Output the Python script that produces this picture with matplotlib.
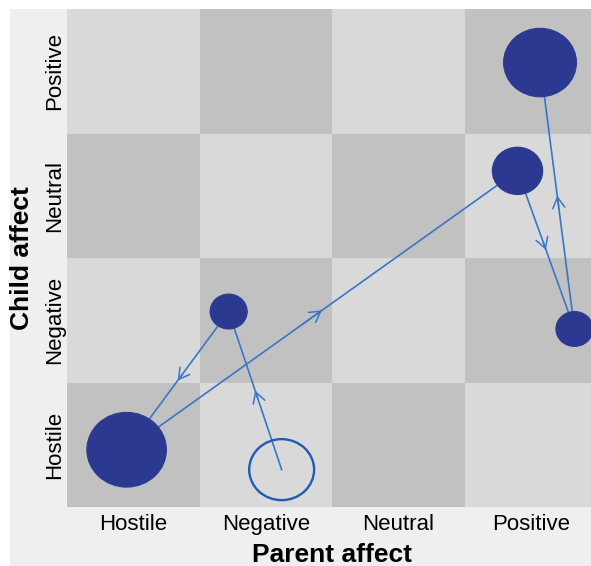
import matplotlib
matplotlib.use("Agg")
import matplotlib.pyplot as plt
from matplotlib.patches import Rectangle, Circle

plt.rcParams["font.family"] = ["Liberation Sans", "DejaVu Sans"]

# state categories on both axes
parent_states = ["Hostile", "Negative", "Neutral", "Positive"]
child_states = ["Hostile", "Negative", "Neutral", "Positive"]

# trajectory through the grid, in visiting order
# (parent coordinate, child coordinate, node radius = duration, filled?)
parent_pos = [2.12, 1.72, 0.95, 3.90, 4.33, 4.07]
child_pos = [0.80, 2.07, 0.96, 3.20, 1.93, 4.07]
duration = [0.245, 0.14, 0.30, 0.19, 0.14, 0.275]
filled = [False, True, True, True, True, True]

CELL_LIGHT = "#d9d9d9"
CELL_DARK = "#c1c1c1"
NODE = "#2b3990"
EDGE = "#3a76c8"

W, H = 591, 566
fig = plt.figure(figsize=(W / 100, H / 100), dpi=100, facecolor="white")
fig.add_artist(Rectangle((10 / W, 0), 1, (H - 9) / H, transform=fig.transFigure,
                         facecolor="#efefef", edgecolor="none", zorder=-5))

ax = fig.add_axes([67 / W, 59 / H, 530 / W, 498 / H])
ax.set_zorder(1)
ax.set_xlim(0.5, len(parent_states) + 0.5)
ax.set_ylim(0.5, len(child_states) + 0.5)

# checkerboard of cells
for i in range(len(parent_states)):
    for j in range(len(child_states)):
        c = CELL_DARK if (i + j) % 2 == 0 else CELL_LIGHT
        ax.add_patch(Rectangle((i + 0.5, j + 0.5), 1, 1, facecolor=c,
                               edgecolor="none", zorder=0))

# transitions with a chevron at the midpoint
for k in range(len(parent_pos) - 1):
    x0, y0 = parent_pos[k], child_pos[k]
    x1, y1 = parent_pos[k + 1], child_pos[k + 1]
    ax.plot([x0, x1], [y0, y1], color=EDGE, lw=1.2, zorder=1)
    mx, my = x0 + 0.5 * (x1 - x0), y0 + 0.5 * (y1 - y0)
    bx, by = x0 + 0.45 * (x1 - x0), y0 + 0.45 * (y1 - y0)
    ax.annotate("", xy=(mx, my), xytext=(bx, by),
                arrowprops=dict(arrowstyle="->,head_length=0.7,head_width=0.4",
                                color=EDGE, lw=1.1, shrinkA=0, shrinkB=0,
                                mutation_scale=11),
                zorder=2)

# nodes
for x, y, r, f in zip(parent_pos, child_pos, duration, filled):
    if f:
        ax.add_patch(Circle((x, y), r, facecolor=NODE, edgecolor=NODE,
                            lw=0.8, zorder=3))
    else:
        ax.add_patch(Circle((x, y), r, facecolor="none", edgecolor="#1f5cb5",
                            lw=1.7, zorder=3))

ax.set_xticks(range(1, len(parent_states) + 1))
ax.set_xticklabels(parent_states, fontsize=16)
ax.set_yticks(range(1, len(child_states) + 1))
ax.set_yticklabels(child_states, fontsize=16, rotation=90, va="center")
ax.tick_params(length=0)
ax.tick_params(axis="x", pad=5)
ax.tick_params(axis="y", pad=1)
for s in ax.spines.values():
    s.set_visible(False)

fig.text(332 / W, 4 / H, "Parent affect", fontsize=19, fontweight="bold",
         ha="center", va="baseline")
fig.text(22 / W, 1 - 258 / H, "Child affect", fontsize=19, fontweight="bold",
         ha="center", va="center", rotation=90)

fig.savefig("out.png", dpi=100, facecolor=fig.get_facecolor())
